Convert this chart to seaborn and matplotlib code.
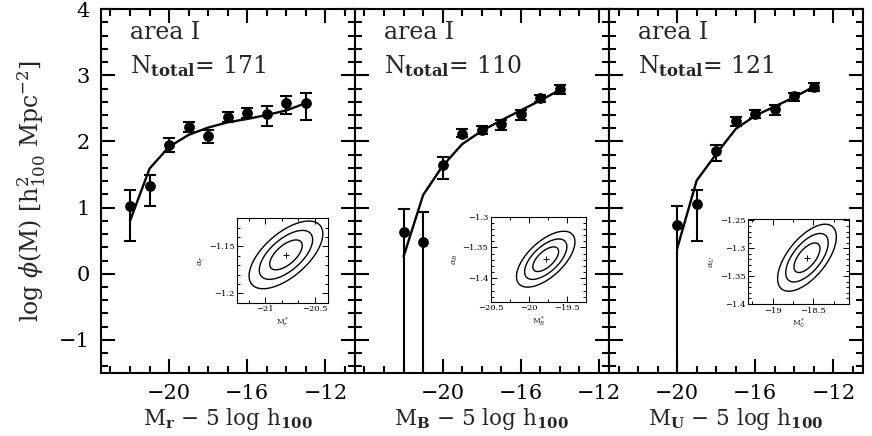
"""
Luminosity functions of area I in r, B and U, with fit and
alpha / M* confidence contours as insets.
"""

import matplotlib
matplotlib.use('Agg')
import matplotlib.pyplot as plt
from matplotlib.ticker import MultipleLocator, AutoMinorLocator, FuncFormatter
import seaborn as sns
import numpy as np
import pandas as pd

sns.set_theme(style='ticks')
plt.rcParams.update({
    'font.family': ['DejaVu Serif'],
    'mathtext.fontset': 'dejavuserif',
    'axes.linewidth': 1.5,
    'axes.edgecolor': 'black',
    'xtick.color': 'black',
    'ytick.color': 'black',
})

# ── r band ───────────────────────────────────────────────────────────────
r_mag = [-22, -21, -20, -19, -18, -17, -16, -15, -14, -13]
r_phi = [1.03, 1.33, 1.95, 2.22, 2.08, 2.37, 2.43, 2.42, 2.58, 2.58]
r_hi  = [1.26, 1.50, 2.05, 2.29, 2.17, 2.44, 2.51, 2.53, 2.68, 2.73]
r_lo  = [0.50, 1.03, 1.84, 2.15, 1.97, 2.30, 2.35, 2.23, 2.42, 2.32]
r_fit = [0.80, 1.59, 1.92, 2.10, 2.21, 2.29, 2.34, 2.40, 2.47, 2.58]

# ── B band ───────────────────────────────────────────────────────────────
b_mag = [-22, -21, -20, -19, -18, -17, -16, -15, -14]
b_phi = [0.63, 0.48, 1.64, 2.12, 2.18, 2.26, 2.41, 2.65, 2.79]
b_hi  = [0.98, 0.93, 1.76, 2.19, 2.24, 2.33, 2.47, 2.70, 2.85]
b_lo  = [-3.0, -3.0, 1.44, 2.06, 2.11, 2.18, 2.33, 2.60, 2.72]
b_fit = [0.26, 1.19, 1.63, 1.96, 2.16, 2.32, 2.47, 2.62, 2.78]

# ── U band ───────────────────────────────────────────────────────────────
u_mag = [-20, -19, -18, -17, -16, -15, -14, -13]
u_phi = [0.74, 1.05, 1.85, 2.31, 2.42, 2.49, 2.68, 2.83]
u_hi  = [1.02, 1.26, 1.94, 2.37, 2.47, 2.55, 2.74, 2.89]
u_lo  = [-3.0, 0.50, 1.71, 2.24, 2.36, 2.40, 2.61, 2.76]
u_fit = [0.38, 1.41, 1.81, 2.19, 2.39, 2.53, 2.67, 2.83]

n_total = [171, 110, 121]
bands   = ['r', 'B', 'U']
xlims   = [(-23.5, -10.5), (-24.5, -11.5), (-23.5, -10.5)]

# inset fits: best M*, best alpha, sigma_M, sigma_alpha, correlation
ins_mstar = [-20.79, -19.78, -18.58]
ins_alpha = [-1.159, -1.369, -1.317]
ins_sig_m = [0.108, 0.112, 0.105]
ins_sig_a = [0.0105, 0.0132, 0.0175]
ins_rho   = [0.62, 0.62, 0.62]
ins_xlim  = [(-21.28, -20.37), (-20.5, -19.25), (-19.3, -18.06)]
ins_ylim  = [(-1.21, -1.12), (-1.438, -1.30), (-1.40, -1.248)]
ins_xmaj  = [0.5, 0.5, 0.5]
ins_ymaj  = [0.05, 0.05, 0.05]
ins_pos   = [[0.2721, 0.3057, 0.1037, 0.1936],
             [0.5631, 0.3080, 0.1089, 0.1950],
             [0.8582, 0.3028, 0.1158, 0.1943]]
dchi2_levels = [2.30, 6.17, 11.8]

data = [
    (r_mag, r_phi, r_lo, r_hi, r_fit),
    (b_mag, b_phi, b_lo, b_hi, b_fit),
    (u_mag, u_phi, u_lo, u_hi, u_fit),
]

minus = FuncFormatter(lambda v, p: ('%g' % v).replace('-', '\u2212'))

fig, axes = plt.subplots(1, 3, figsize=(8.72, 4.36), dpi=100, sharey=True)
fig.subplots_adjust(left=0.1155, right=0.9894, top=0.979, bottom=0.1445, wspace=0)

for i, ax in enumerate(axes):
    mag, phi, lo, hi, fit = data[i]
    df = pd.DataFrame({'mag': mag, 'phi': phi, 'lo': lo, 'hi': hi, 'fit': fit})

    sns.lineplot(data=df, x='mag', y='fit', ax=ax, color='black', lw=1.7,
                 sort=False, estimator=None)
    ax.errorbar(df['mag'], df['phi'],
                yerr=[df['phi'] - df['lo'], df['hi'] - df['phi']],
                fmt='none', ecolor='black', elinewidth=1.5, capsize=4, capthick=1.5)
    sns.scatterplot(data=df, x='mag', y='phi', ax=ax, color='black', s=60,
                    edgecolor='black', linewidth=0, zorder=5)

    ax.set_xlim(*xlims[i])
    ax.set_ylim(-1.5, 4)
    ax.set_xticks([-20, -16, -12])
    ax.xaxis.set_minor_locator(MultipleLocator(1))
    ax.yaxis.set_major_locator(MultipleLocator(1))
    ax.yaxis.set_minor_locator(MultipleLocator(0.2))
    ax.xaxis.set_major_formatter(minus)
    ax.yaxis.set_major_formatter(minus)
    ax.tick_params(which='both', direction='in', top=True, right=True,
                   width=1.5, labelsize=15, pad=8)
    ax.tick_params(which='major', length=10)
    ax.tick_params(which='minor', length=5)
    ax.set_xlabel(r'M$_{\mathbf{%s}}$ $-$ 5 log h$_{\mathbf{100}}$' % bands[i],
                  fontsize=15.5, labelpad=2)
    ax.set_ylabel('')

    ax.text(0.115, 0.935, 'area I', transform=ax.transAxes, fontsize=17,
            va='center')
    ax.text(0.115, 0.845, r'N$_{\mathbf{total}}$= %d' % n_total[i],
            transform=ax.transAxes, fontsize=17, va='center')

    # inset: confidence contours on (M*, alpha)
    ia = fig.add_axes(ins_pos[i])
    xs = np.linspace(*ins_xlim[i], 200)
    ys = np.linspace(*ins_ylim[i], 200)
    X, Y = np.meshgrid(xs, ys)
    dx = (X - ins_mstar[i]) / ins_sig_m[i]
    dy = (Y - ins_alpha[i]) / ins_sig_a[i]
    rho = ins_rho[i]
    chi2 = (dx**2 - 2 * rho * dx * dy + dy**2) / (1 - rho**2)
    ia.contour(X, Y, chi2, levels=dchi2_levels, colors='black', linewidths=1.0)
    ia.plot([ins_mstar[i]], [ins_alpha[i]], marker='+', color='black', ms=4, mew=0.7)
    ia.set_xlim(*ins_xlim[i])
    ia.set_ylim(*ins_ylim[i])
    ia.xaxis.set_major_locator(MultipleLocator(ins_xmaj[i]))
    ia.yaxis.set_major_locator(MultipleLocator(ins_ymaj[i]))
    ia.xaxis.set_minor_locator(AutoMinorLocator(2 if i else 3))
    ia.yaxis.set_minor_locator(AutoMinorLocator(5))
    ia.xaxis.set_major_formatter(minus)
    ia.yaxis.set_major_formatter(minus)
    ia.tick_params(which='both', direction='in', top=True, right=True,
                   width=0.7, labelsize=6, pad=2)
    ia.tick_params(which='major', length=4)
    ia.tick_params(which='minor', length=2)
    for sp in ia.spines.values():
        sp.set_linewidth(0.8)
    ia.set_xlabel(r'M$^*_{%s}$' % bands[i], fontsize=5.5, labelpad=1)
    ia.set_ylabel(r'$\alpha_{%s}$' % bands[i], fontsize=6, labelpad=2)

axes[0].set_ylabel(r'log $\phi$(M) [h$^2_{100}$ Mpc$^{-2}$]', fontsize=17, labelpad=8)

fig.savefig('out.png', dpi=100)
